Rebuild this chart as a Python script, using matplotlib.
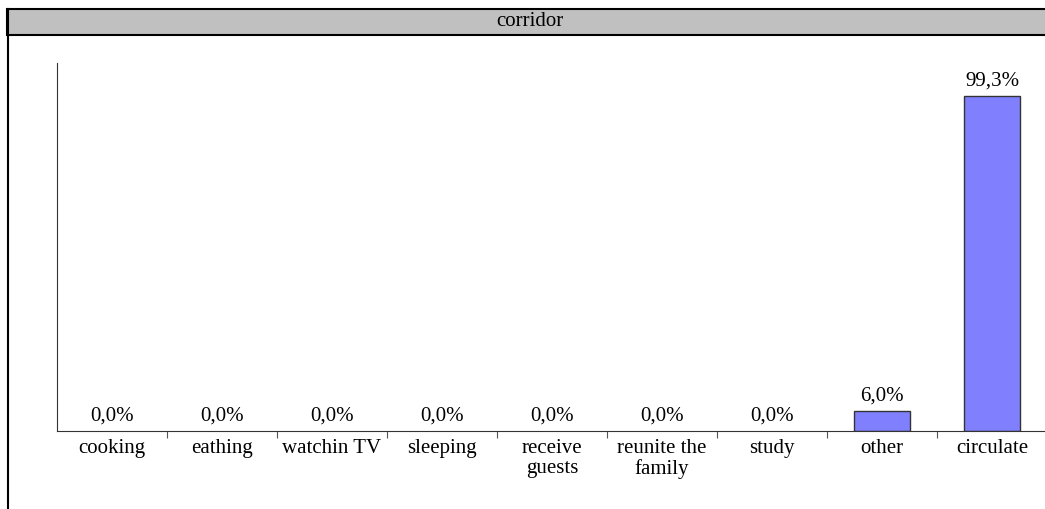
import matplotlib
matplotlib.use('Agg')
import matplotlib.pyplot as plt
from matplotlib.patches import Rectangle
from matplotlib.lines import Line2D

# data
categories = ['cooking', 'eathing', 'watchin TV', 'sleeping', 'receive\nguests',
              'reunite the\nfamily', 'study', 'other', 'circulate']
values = [0.0, 0.0, 0.0, 0.0, 0.0, 0.0, 0.0, 6.0, 99.3]
title = 'corridor'

plt.rcParams['font.family'] = ['Liberation Serif', 'DejaVu Serif']

W, H = 1045, 509
fig = plt.figure(figsize=(W / 100, H / 100), dpi=100)

# outer frame (left edge only visible) and grey title strip
fig.lines.append(Line2D([7.5 / W, 7.5 / W], [0, (H - 9) / H], transform=fig.transFigure,
                        color='black', lw=1.5))
fig.patches.append(Rectangle((7 / W, (H - 35) / H), 1.2, 26 / H, transform=fig.transFigure,
                             facecolor='#c0c0c0', edgecolor='black', lw=1.5, zorder=1))
fig.text(530 / W, (H - 22) / H, title, ha='center', va='center', fontsize=15)

# axes: each category slot is ~110 px wide starting at x=57
ax = fig.add_axes([57 / W, (H - 431) / H, 990 / W, 368 / H])
x = list(range(len(categories)))
bars = ax.bar(x, values, width=0.51, color='#8080ff', edgecolor='#333333', linewidth=1)
for b, v in zip(bars, values):
    if v == 0:
        b.set_visible(False)
ax.set_xlim(-0.5, len(categories) - 0.5)
ax.set_ylim(0, 109.2)

for xi, v in zip(x, values):
    ax.annotate(f'{v:.1f}%'.replace('.', ','), (xi, v), xytext=(0, 4),
                textcoords='offset points', ha='center', va='bottom', fontsize=15)

for s in ['top', 'right']:
    ax.spines[s].set_visible(False)
ax.spines['left'].set_color('#333333')
ax.spines['bottom'].set_color('#333333')
ax.set_yticks([])
ax.set_xticks([i + 0.5 for i in x[:-1]])
ax.set_xticklabels([])
ax.tick_params(axis='x', length=5, color='#555555', direction='out')
ax.set_xticks(x, minor=True)
ax.set_xticklabels(categories, minor=True, fontsize=15, linespacing=1.05)
ax.tick_params(axis='x', which='minor', length=0, pad=6)

fig.savefig('out.png', dpi=100)
